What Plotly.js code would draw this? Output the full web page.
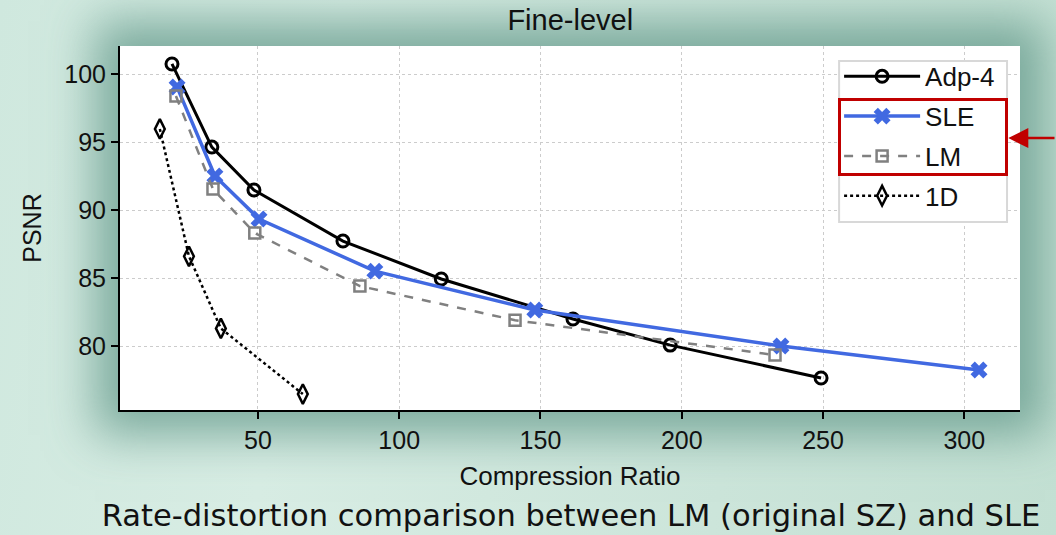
<!DOCTYPE html>
<html>
<head>
<meta charset="utf-8">
<script src="https://cdn.plot.ly/plotly-3.0.1.min.js"></script>
<style>
  html, body { margin:0; padding:0; width:1056px; height:535px; overflow:hidden; }
  body { background: linear-gradient(100deg, #cfe8de 0%, #d8ede4 30%, #cce5da 70%, #c3e0d3 100%); position:relative; }
  #shadow { position:absolute; left:120px; top:46px; width:900px; height:364px;
            box-shadow: 0 0 45px 25px rgba(95,150,135,0.75); background:#fff; }
  #chart { position:absolute; left:0; top:0; width:1056px; height:535px; }
  #redbox { position:absolute; left:838px; top:98px; width:164px; height:72px;
            border:3px solid #c00000; pointer-events:none; }
  #caption { position:absolute; left:43px; width:1056px; top:498px; text-align:center;
             font-family:'DejaVu Sans', sans-serif; font-size:30.5px; color:#111; line-height:36px; white-space:nowrap; }
</style>
</head>
<body>
<div id="shadow"></div>
<div id="chart"></div>
<div id="redbox"></div>
<div id="caption">Rate-distortion comparison between LM (original SZ) and SLE</div>
<script>
const adpX = [19.6, 33.7, 48.6, 80.1, 114.9, 161.5, 195.9, 249.3];
const adpY = [100.74, 94.63, 91.47, 87.72, 84.93, 81.99, 80.07, 77.65];
const sleX = [21.4, 34.8, 50.4, 91.4, 148.0, 235.1, 305.2];
const sleY = [99.04, 92.5, 89.34, 85.51, 82.65, 80.0, 78.24];
const lmX = [21.0, 34.1, 48.9, 86.1, 141.0, 233.0];
const lmY = [98.38, 91.54, 88.31, 84.41, 81.9, 79.34];
const oneDX = [15.3, 25.6, 36.9, 65.9];
const oneDY = [95.96, 86.6, 81.3, 76.47];
const xTicks = [50, 100, 150, 200, 250, 300];
const yTicks = [80, 85, 90, 95, 100];

const traces = [
  {x: adpX, y: adpY, name: 'Adp-4', mode: 'lines+markers', legendgroup: 'a',
   line: {color: '#000', width: 3},
   marker: {symbol: 'circle-open', size: 12, color: '#000', line: {width: 3, color: '#000'}}},
  {x: sleX, y: sleY, name: 'SLE', mode: 'lines+markers', legendgroup: 'b',
   line: {color: '#4169e1', width: 3.5},
   marker: {symbol: 'x', size: 15, color: '#4169e1', line: {width: 0}}},
  {x: lmX, y: lmY, name: 'LM', mode: 'lines+markers', legendgroup: 'c',
   line: {color: '#808080', width: 2.5, dash: 'dash'},
   marker: {symbol: 'square-open', size: 11, color: '#808080', line: {width: 2.5, color: '#808080'}}},
  {x: oneDX, y: oneDY, name: '1D', mode: 'lines+markers', legendgroup: 'd',
   line: {color: '#000', width: 2.5, dash: 'dot'},
   marker: {symbol: 'diamond-tall-open', size: 14, color: '#000', line: {width: 2.5, color: '#000'}}}
];

const layout = {
  width: 1056, height: 535,
  margin: {l: 120, r: 36, t: 46, b: 125},
  paper_bgcolor: 'rgba(0,0,0,0)',
  plot_bgcolor: '#ffffff',
  font: {family: 'Liberation Sans, Arial, sans-serif', color: '#111', size: 25},
  title: {text: 'Fine-level', x: 0.54, xanchor: 'center', y: 0.962, yanchor: 'middle',
          font: {size: 29, color: '#111'}},
  xaxis: {range: [1.2, 319.7], tickvals: xTicks, ticks: 'outside', ticklen: 7, tickwidth: 2,
          tickcolor: '#000', showline: true, linecolor: '#000', linewidth: 2,
          showgrid: true, gridcolor: '#cccccc', griddash: 'dot', gridwidth: 1,
          zeroline: false, tickfont: {size: 25},
          title: {text: 'Compression Ratio', font: {size: 26}, standoff: 14}},
  yaxis: {range: [75.3, 102.06], tickvals: yTicks, ticks: 'outside', ticklen: 7, tickwidth: 2,
          tickcolor: '#000', showline: true, linecolor: '#000', linewidth: 2,
          showgrid: true, gridcolor: '#cccccc', griddash: 'dot', gridwidth: 1,
          zeroline: false, tickfont: {size: 25},
          title: {text: 'PSNR', font: {size: 25}, standoff: 16}},
  legend: {x: 0.799, y: 0.981, xanchor: 'left', yanchor: 'top',
           bgcolor: 'rgba(0,0,0,0)', borderwidth: 0, traceorder: 'grouped',
           font: {size: 26, color: '#111'}, tracegroupgap: 3, itemwidth: 76},
  shapes: [
    {type: 'rect', xref: 'paper', yref: 'paper', x0: 0.799, x1: 0.9856, y0: 0.5165, y1: 0.9588,
     line: {color: '#d8d8d8', width: 2}, fillcolor: '#ffffff', layer: 'above'}
  ],
  annotations: [
    {xref: 'paper', yref: 'paper', x: 0.987, y: 0.747, text: '', showarrow: true,
     axref: 'pixel', ayref: 'pixel', ax: 54, ay: 0, arrowhead: 2, arrowsize: 1.6,
     arrowwidth: 2.5, arrowcolor: '#c00000'}
  ],
  showlegend: true
};

Plotly.newPlot('chart', traces, layout, {displayModeBar: false, staticPlot: true});
</script>
</body>
</html>
